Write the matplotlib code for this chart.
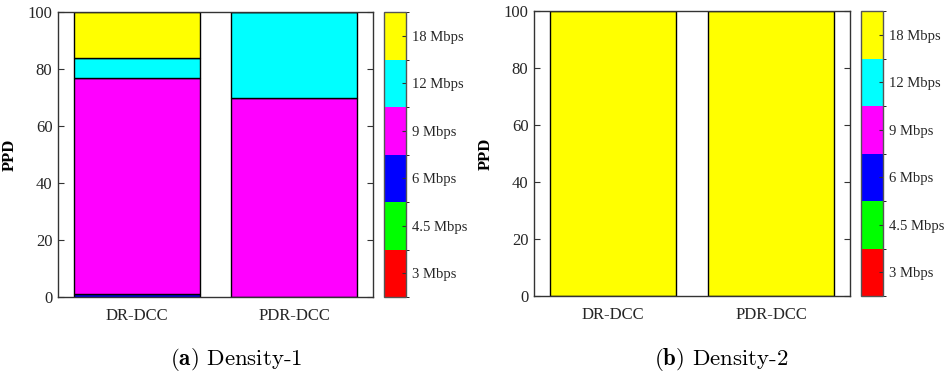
import matplotlib
matplotlib.use("Agg")
import matplotlib.pyplot as plt
import numpy as np
from matplotlib.colors import ListedColormap, BoundaryNorm
import matplotlib.colorbar as mcolorbar

plt.rcParams['font.family'] = ['Liberation Serif', 'DejaVu Serif']
plt.rcParams['mathtext.fontset'] = 'cm'

schemes = ["DR-DCC", "PDR-DCC"]
rates = ["3 Mbps", "4.5 Mbps", "6 Mbps", "9 Mbps", "12 Mbps", "18 Mbps"]
rate_colors = ["#ff0000", "#00ff00", "#0000ff", "#ff00ff", "#00ffff", "#ffff00"]

# PPD share (%) per data rate, one list per scheme
density1_dr = [0, 0, 1.0, 76.0, 7.0, 16.0]
density1_pdr = [0, 0, 0, 70.0, 30.0, 0]
density2_dr = [0, 0, 0, 0, 0, 100.0]
density2_pdr = [0, 0, 0, 0, 0, 100.0]

panels = [
    ([density1_dr, density1_pdr], r"$\mathbf{(a)}$ Density-1"),
    ([density2_dr, density2_pdr], r"$\mathbf{(b)}$ Density-2"),
]

W, H = 948, 373
fig = plt.figure(figsize=(W / 100, H / 100), dpi=100)

ax_boxes = [(58, 12, 315, 285), (534, 11, 316, 285)]
cb_boxes = [(384, 12, 22, 285), (861, 11, 22, 285)]
caption_x = [236, 721]

spine_col = "#333333"
cmap = ListedColormap(rate_colors)
norm = BoundaryNorm(np.arange(len(rates) + 1), cmap.N)

for (data, caption), (x, y, w, h), (cx, cy, cw, ch), capx in zip(panels, ax_boxes, cb_boxes, caption_x):
    ax = fig.add_axes([x / W, 1 - (y + h) / H, w / W, h / H])
    pos = np.arange(1, len(schemes) + 1)
    vals = np.array(data)  # schemes x rates
    bottom = np.zeros(len(schemes))
    for k in range(len(rates)):
        heights = vals[:, k]
        ax.bar(pos, heights, width=0.8, bottom=bottom, color=rate_colors[k],
               edgecolor="black", linewidth=1.0)
        bottom += heights
    ax.set_xlim(0.5, 2.5)
    ax.set_ylim(0, 100)
    ax.set_xticks(pos)
    ax.set_xticklabels(schemes, fontsize=12)
    ax.set_yticks(np.arange(0, 101, 20))
    ax.tick_params(axis='y', direction='in', right=True, labelsize=12,
                   length=4, color=spine_col, labelcolor="#262626", pad=4)
    ax.tick_params(axis='x', length=0, pad=8, labelcolor="#262626")
    ax.set_ylabel("PPD", fontsize=12, fontweight='bold', labelpad=7)
    for s in ax.spines.values():
        s.set_color(spine_col)
        s.set_linewidth(1.0)

    cax = fig.add_axes([cx / W, 1 - (cy + ch) / H, cw / W, ch / H])
    cb = mcolorbar.ColorbarBase(cax, cmap=cmap, norm=norm, orientation='vertical')
    cb.set_ticks(np.arange(len(rates)) + 0.5)
    cb.set_ticklabels(rates)
    cax.tick_params(direction='in', length=3, labelsize=10.5, color=spine_col,
                    labelcolor="#262626", pad=4)
    cb.outline.set_edgecolor("#555555")
    cb.outline.set_linewidth(1.0)

    fig.text(capx / W, 1 - 365 / H, caption, ha='center', va='baseline',
             fontsize=16.5, family='cmr10')

fig.savefig("out.png", dpi=100)
